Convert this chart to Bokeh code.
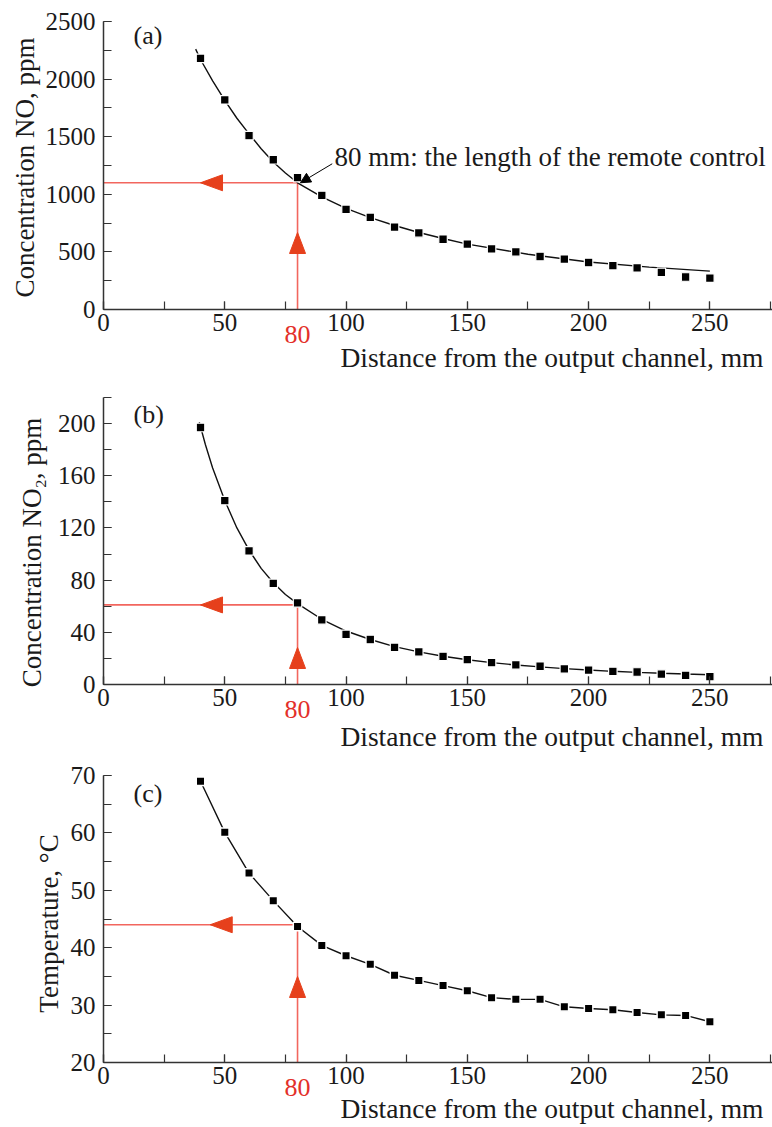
import math
from bokeh.plotting import figure
from bokeh.models import Range1d, SingleIntervalTicker, Label, Arrow, NormalHead
from bokeh.layouts import column
from bokeh.embed import file_html
from bokeh.resources import INLINE

# ---------------- data ----------------
distance_mm = [40, 50, 60, 70, 80, 90, 100, 110, 120, 130, 140,
               150, 160, 170, 180, 190, 200, 210, 220, 230, 240, 250]

no_ppm = [2180, 1820, 1510, 1300, 1145, 990, 870, 800, 715, 665, 610,
          567, 527, 500, 460, 437, 408, 380, 362, 322, 282, 272]

no2_ppm = [197, 141, 102.5, 77.5, 62.5, 49.5, 38.5, 34.5, 28.5, 25, 21.5,
           19, 16.8, 15, 14, 12, 11, 10, 9.6, 8, 7, 6]

temp_c = [69.0, 60.1, 53.0, 48.2, 43.7, 40.4, 38.6, 37.1, 35.2, 34.3, 33.4,
          32.5, 31.3, 31.0, 31.0, 29.7, 29.4, 29.2, 28.7, 28.3, 28.2, 27.1]

# fitted curves
fit_no_x = [38, 40, 45, 50, 55, 60, 65, 70, 75, 80, 90, 100, 110, 120,
            130, 140, 150, 175, 200, 225, 250]
fit_no_y = [2260, 2170, 1985, 1815, 1660, 1525, 1395, 1280, 1185, 1100, 978,
            878, 797, 729, 668, 616, 567, 480, 412, 368, 333]

fit_no2_x = [39.5, 42, 45, 50, 55, 60, 65, 70, 75, 80, 90, 100, 110, 120,
             130, 140, 150, 160, 170, 180, 190, 200, 210, 220, 230, 240, 250]
fit_no2_y = [201, 184, 166, 141, 120, 103, 89, 78, 69, 62, 50, 41, 34.5, 29,
             25, 21.7, 19, 16.8, 15, 13.5, 12.2, 11.1, 10.1, 9.3, 8.6, 8.0, 7.5]

guide_x = 80
guide_y = [1100, 61, 44]

x_title = "Distance from the output channel, mm"
y_titles = ["Concentration NO, ppm", "Concentration NO\u2082, ppm", "Temperature, \u00b0C"]
tags = ["(a)", "(b)", "(c)"]
note_text = "80 mm: the length of the remote control"

# ---------------- style ----------------
FONT = "Liberation Serif"
INK = "#1a1a1a"
RED_LINE = "#f2665e"
RED_HEAD = "#e6401c"
RED_TEXT = "#e3302a"
FIG_W = 772
LEFT = 103                      # px from the figure's left edge to x = 0
SX = 667 / 275.0                # px per mm
X_START = -LEFT / SX
X_END = (FIG_W - LEFT) / SX


def panel(height, top, data_px, y0, y1, y_major, ytitle, ytitle_x, ytitle_y,
          tag, tag_y, guide, left_tip, up_tip_px, red_px, title_px):
    """top: px from figure top to y1; data_px: px from y1 to y0."""
    sy = data_px / (y1 - y0)
    y_top = y1 + top / sy
    y_bot = y1 - (height - top) / sy

    def ypx(px_from_fig_top):
        return y1 - (px_from_fig_top - top) / sy

    p = figure(width=FIG_W, height=height, x_range=Range1d(X_START, X_END),
               y_range=Range1d(y_bot, y_top), output_backend="svg",
               toolbar_location=None, min_border=0, min_border_left=0,
               min_border_right=0, min_border_top=0, min_border_bottom=0)
    p.outline_line_color = None
    p.grid.visible = False
    p.background_fill_color = "white"
    p.border_fill_color = "white"

    p.xaxis.ticker = SingleIntervalTicker(interval=50, num_minor_ticks=2)
    p.yaxis.ticker = SingleIntervalTicker(interval=y_major, num_minor_ticks=2)
    p.xaxis.fixed_location = y0
    p.yaxis.fixed_location = 0
    p.xaxis.bounds = (0, X_END)
    p.yaxis.bounds = (y0, y1)
    for ax in (p.xaxis, p.yaxis):
        ax.axis_line_color = "#333333"
        ax.axis_line_width = 1.5
        ax.major_tick_line_color = "#333333"
        ax.minor_tick_line_color = "#333333"
        ax.major_tick_line_width = 1.2
        ax.minor_tick_line_width = 1.2
        ax.major_tick_in = 8
        ax.major_tick_out = 0
        ax.minor_tick_in = 8
        ax.minor_tick_out = 0
        ax.major_label_text_font = FONT
        ax.major_label_text_font_size = "25px"
        ax.major_label_text_color = INK
    p.xaxis.major_label_standoff = 4
    p.yaxis.major_label_standoff = 8

    # y title (rotated)
    p.add_layout(Label(x=(ytitle_x - LEFT) / SX, y=ypx(ytitle_y), text=ytitle,
                       angle=math.pi / 2, text_font=FONT, text_font_size="27px",
                       text_color=INK, text_align="center",
                       text_baseline="middle"))

    # red guide lines
    p.line([0, guide_x], [guide, guide], line_color=RED_LINE, line_width=1.6)
    p.line([guide_x, guide_x], [y0, guide], line_color=RED_LINE, line_width=1.6)
    # left-pointing head
    L, H = 22, 8
    p.patch([left_tip, left_tip + L / SX, left_tip + L / SX],
            [guide, guide + H / sy, guide - H / sy], color=RED_HEAD)
    # up-pointing head
    tip_y = y0 + up_tip_px / sy
    base_y = y0 + (up_tip_px - 21) / sy
    p.patch([guide_x, guide_x - H / SX, guide_x + H / SX],
            [tip_y, base_y, base_y], color=RED_HEAD)

    # tag
    p.add_layout(Label(x=30 / SX, y=ypx(tag_y), text=tag, text_font=FONT,
                       text_font_size="26px", text_color=INK,
                       text_baseline="middle"))
    # red 80 under the axis
    p.add_layout(Label(x=guide_x, y=y0 - red_px / sy, text=str(guide_x),
                       text_font=FONT, text_font_size="26px",
                       text_color=RED_TEXT, text_align="center",
                       text_baseline="middle"))
    # x title
    p.add_layout(Label(x=(763 - LEFT) / SX, y=y0 - title_px / sy,
                       text=x_title, text_font=FONT,
                       text_font_size="27.5px", text_color=INK,
                       text_align="right", text_baseline="middle"))
    return p, sy


# panel (a): figure spans page 0..375
pa, sya = panel(375, 21, 288, 0, 2500, 500, y_titles[0], 24, 167, tags[0], 35,
                guide_y[0], 40, 77, 25, 48)
pa.line(fit_no_x, fit_no_y, line_color="#111111", line_width=1.4)
pa.scatter(distance_mm, no_ppm, marker="square", size=8.5, fill_color="black",
           line_color="white", line_width=1.2)
pa.add_layout(Label(x=(334 - LEFT) / SX, y=(309 - 156) / sya, text=note_text,
                    text_font=FONT, text_font_size="27px", text_color=INK,
                    text_baseline="middle"))
pa.add_layout(Arrow(end=NormalHead(size=10, fill_color="black",
                                   line_color="black"),
                    x_start=94.3, y_start=1265, x_end=81.2, y_end=1100,
                    line_color="black", line_width=1))

# panel (b): figure spans page 375..752
pb, syb = panel(377, 22, 287, 0, 220, 40, y_titles[1], 31, 552 - 375, tags[1],
                414 - 375, guide_y[1], 40, 37, 25, 52)
pb.line(fit_no2_x, fit_no2_y, line_color="#111111", line_width=1.4)
pb.scatter(distance_mm, no2_ppm, marker="square", size=8.5, fill_color="black",
           line_color="white", line_width=1.2)

# panel (c): figure spans page 752..1127
pc, syc = panel(375, 23, 287, 20, 70, 10, y_titles[2], 48, 923 - 752, tags[2],
                793 - 752, guide_y[2], 44, 86, 25, 46)
pc.line(distance_mm, temp_c, line_color="#111111", line_width=1.4)
pc.scatter(distance_mm, temp_c, marker="square", size=8.5, fill_color="black",
           line_color="white", line_width=1.5)

layout = column(pa, pb, pc, spacing=0)
open("out.html", "w").write(file_html(layout, INLINE))
